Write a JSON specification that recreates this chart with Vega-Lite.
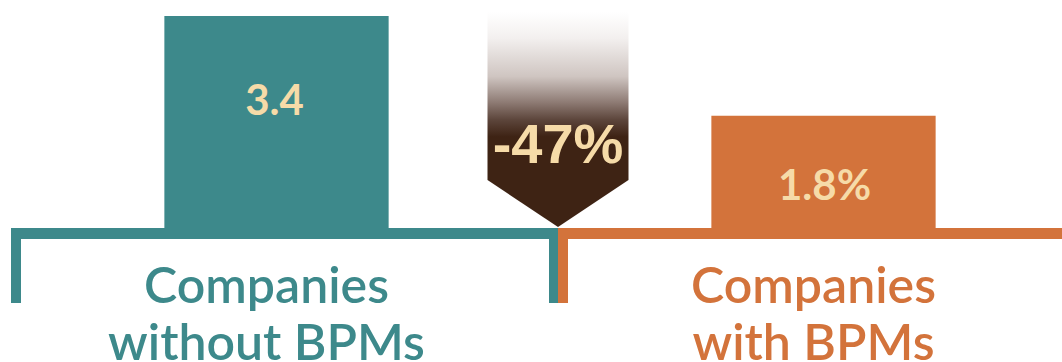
{
  "$schema": "https://vega.github.io/schema/vega-lite/v6.json",
  "width": 1062,
  "height": 362,
  "autosize": {"type": "none"},
  "padding": 0,
  "background": "#ffffff",
  "config": {"view": {"stroke": null}},
  "datasets": {
    "groups": [
      {"group": "Companies without BPMs", "name": "Companies\nwithout BPMs", "value": 3.4, "label": "3.4"},
      {"group": "Companies with BPMs", "name": "Companies\nwith BPMs", "value": 1.8, "label": "1.8%"}
    ],
    "change": [
      {"group": "Companies with BPMs", "change": "-47%"}
    ]
  },
  "data": {"name": "groups"},
  "layer": [
    {
      "mark": {"type": "bar", "width": {"band": 1}},
      "encoding": {
        "x": {"field": "group", "type": "nominal", "axis": null, "scale": {"type": "band", "domain": ["Companies without BPMs", "Companies with BPMs"], "range": [11, 1105], "paddingInner": 0, "paddingOuter": 0}},
        "y": {"datum": 0, "type": "quantitative", "axis": null, "scale": {"domain": [-2.149, 3.657], "nice": false, "zero": false}},
        "y2": {"datum": -0.1764},
        "color": {"field": "group", "type": "nominal", "legend": null, "scale": {"domain": ["Companies without BPMs", "Companies with BPMs"], "range": ["#3d898b", "#d3733b"]}}
      }
    },
    {
      "mark": {"type": "rule", "strokeWidth": 10, "xOffset": 5},
      "encoding": {
        "x": {"field": "group", "type": "nominal", "bandPosition": 0, "axis": null},
        "y": {"datum": 0, "type": "quantitative"},
        "y2": {"datum": -1.203},
        "color": {"field": "group", "type": "nominal", "legend": null}
      }
    },
    {
      "transform": [{"filter": "datum.group === 'Companies without BPMs'"}],
      "mark": {"type": "rule", "strokeWidth": 9, "xOffset": -4.5},
      "encoding": {
        "x": {"field": "group", "type": "nominal", "bandPosition": 1, "axis": null},
        "y": {"datum": 0, "type": "quantitative"},
        "y2": {"datum": -1.203},
        "color": {"field": "group", "type": "nominal", "legend": null}
      }
    },
    {
      "mark": {"type": "bar", "width": {"band": 0.41}, "xOffset": -8},
      "encoding": {
        "x": {"field": "group", "type": "nominal", "axis": null},
        "y": {"field": "value", "type": "quantitative"},
        "y2": {"datum": 0},
        "color": {"field": "group", "type": "nominal", "legend": null}
      }
    },
    {
      "transform": [{"filter": "datum.group === 'Companies without BPMs'"}],
      "mark": {"type": "text", "font": "Lato", "fontWeight": "bold", "fontSize": 42, "color": "#f6dba8", "align": "center", "baseline": "alphabetic", "dy": 99, "xOffset": -10},
      "encoding": {
        "x": {"field": "group", "type": "nominal", "axis": null},
        "y": {"field": "value", "type": "quantitative"},
        "text": {"field": "label", "type": "nominal"}
      }
    },
    {
      "transform": [{"filter": "datum.group === 'Companies with BPMs'"}],
      "mark": {"type": "text", "font": "Lato", "fontWeight": "bold", "fontSize": 42, "color": "#f6dba8", "align": "center", "baseline": "alphabetic", "dy": 84, "xOffset": -7},
      "encoding": {
        "x": {"field": "group", "type": "nominal", "axis": null},
        "y": {"field": "value", "type": "quantitative"},
        "text": {"field": "label", "type": "nominal"}
      }
    },
    {
      "mark": {"type": "text", "font": "Lato", "fontWeight": 600, "fontSize": 50, "lineHeight": 57, "lineBreak": "\n", "align": "center", "baseline": "alphabetic", "xOffset": -18},
      "encoding": {
        "x": {"field": "group", "type": "nominal", "axis": null},
        "y": {"datum": -1.203, "type": "quantitative"},
        "text": {"field": "name", "type": "nominal"},
        "color": {"field": "group", "type": "nominal", "legend": null}
      }
    },
    {
      "data": {"name": "change"},
      "mark": {
        "type": "point",
        "shape": "M-1,-1.525L1,-1.525L1,0.858L0,1.525L-1,0.858Z",
        "size": 19881,
        "filled": true,
        "opacity": 1,
        "strokeWidth": 0,
        "fill": {
          "gradient": "linear",
          "x1": 0, "y1": 0, "x2": 0, "y2": 1,
          "stops": [
            {"offset": 0, "color": "#ffffff"},
            {"offset": 0.12, "color": "#f3f0ef"},
            {"offset": 0.3, "color": "#cfc5c1"},
            {"offset": 0.42, "color": "#8e7b74"},
            {"offset": 0.5, "color": "#5d463c"},
            {"offset": 0.58, "color": "#3e2314"},
            {"offset": 1, "color": "#3e2314"}
          ]
        }
      },
      "encoding": {
        "x": {"field": "group", "type": "nominal", "bandPosition": 0, "axis": null},
        "y": {"datum": 1.74, "type": "quantitative"}
      }
    },
    {
      "data": {"name": "change"},
      "mark": {"type": "text", "font": "Liberation Sans Narrow, Liberation Sans", "fontWeight": "bold", "fontSize": 56, "color": "#f6dba8", "align": "center", "baseline": "alphabetic"},
      "encoding": {
        "x": {"field": "group", "type": "nominal", "bandPosition": 0, "axis": null},
        "y": {"datum": 1.043, "type": "quantitative"},
        "text": {"field": "change", "type": "nominal"}
      }
    }
  ]
}
